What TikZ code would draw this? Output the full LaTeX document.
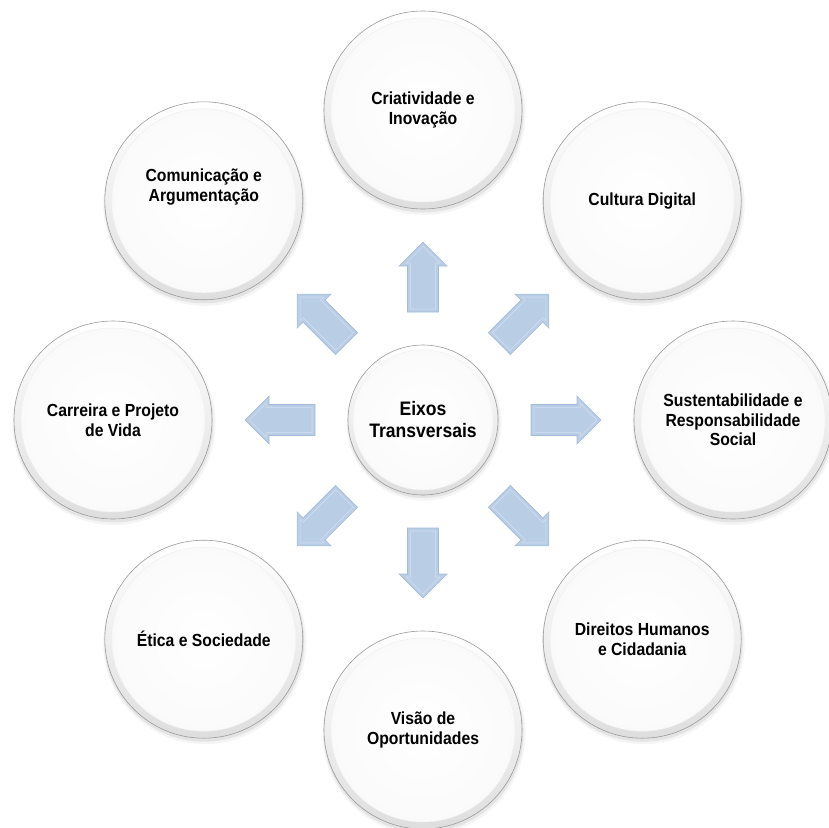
\documentclass[tikz,border=0pt]{standalone}
\usepackage{fontspec}
\setmainfont{Liberation Sans}[FakeStretch=0.9]
\usetikzlibrary{calc}

\definecolor{arrowfill}{HTML}{B9CDE5}
\definecolor{arrowedge}{HTML}{A2BBDA}
\definecolor{arrowlite}{HTML}{C9D9EE}
\definecolor{discline}{HTML}{9A9A9A}

\tikzset{
  disc/.style={circle, minimum size=198pt, inner sep=0pt, draw=discline,
    line width=0.6pt, top color=white, bottom color=gray!26,
    align=center, font=\bfseries\fontsize{17.5}{19.5}\selectfont,
    path picture={
      \shade[inner color=white, outer color=gray!4]
        (path picture bounding box.center) circle (92);
      \draw[gray!12, line width=0.5pt]
        (path picture bounding box.center) circle (92);
    }},
  hubdisc/.style={disc, minimum size=150pt,
    font=\bfseries\fontsize{19.5}{22}\selectfont,
    path picture={
      \shade[inner color=white, outer color=gray!4]
        (path picture bounding box.center) circle (70);
      \draw[gray!12, line width=0.5pt]
        (path picture bounding box.center) circle (70);
    }},
  lbl/.style={align=center, font=\bfseries\fontsize{17.5}{19.5}\selectfont},
  arrowbody/.style={fill=arrowfill, draw=arrowedge, line width=0.6pt, line join=miter},
  arrowbevel/.style={draw=arrowlite, line width=1pt, line join=miter},
}

% block arrow pointing away from the hub at the given angle
\newcommand\outarrow[1]{%
  \begin{scope}[shift={(hub.center)}, rotate=-#1]
    \path[arrowbody] (108,-15.5) -- (154,-15.5) -- (154,-24) -- (178,0)
      -- (154,24) -- (154,15.5) -- (108,15.5) -- cycle;
    \path[arrowbevel] (111,-12.5) -- (157,-12.5) -- (157,-16.8) -- (173.8,0)
      -- (157,16.8) -- (157,12.5) -- (111,12.5) -- cycle;
  \end{scope}}

\begin{document}
\begin{tikzpicture}[x=1pt, y=-1pt]
  \useasboundingbox (0,0) rectangle (828,828);
  \coordinate (o) at (423,420);

  % soft shadows under the outer discs
  \foreach \a in {0,45,...,315}{
    \fill[black, opacity=.04] ($(o)+(\a:310)+(1,3.5)$) circle (101.5);
    \fill[black, opacity=.07] ($(o)+(\a:310)+(0.5,2.5)$) circle (100);
  }
  \fill[black, opacity=.04] ($(o)+(1,3)$) circle (77.5);
  \fill[black, opacity=.07] ($(o)+(0.5,2)$) circle (76);

  % outer discs
  \node[disc] (sus) at ($(o)+(0:310)$)   {Sustentabilidade e\\Responsabilidade\\Social};
  \node[disc] (dir) at ($(o)+(45:310)$)  {Direitos Humanos\\e Cidadania};
  \node[disc] (vis) at ($(o)+(90:310)$)  {Visão de\\Oportunidades};
  \node[disc] (eti) at ($(o)+(135:310)$) {Ética e Sociedade};
  \node[disc] (car) at ($(o)+(180:310)$) {Carreira e Projeto\\de Vida};
  \node[disc] (com) at ($(o)+(225:310)$) {};
  \node[lbl]  (comtext) at ($(com)+(0,-14)$) {Comunicação e\\Argumentação};
  \node[disc] (cri) at ($(o)+(270:310)$) {Criatividade e\\Inovação};
  \node[disc] (cul) at ($(o)+(315:310)$) {Cultura Digital};

  % central disc
  \node[hubdisc] (hub) at (o) {Eixos\\Transversais};

  % arrows radiating from the hub
  \foreach \a in {0,45,...,315}{\outarrow{\a}}
\end{tikzpicture}
\end{document}
